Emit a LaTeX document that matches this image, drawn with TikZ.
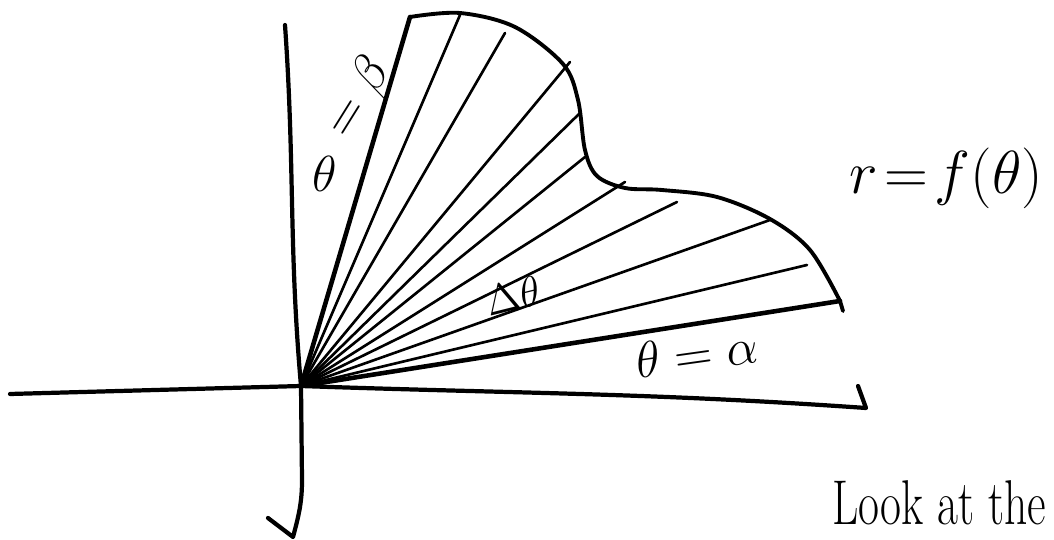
\documentclass[tikz,border=0pt]{standalone}
\usepackage{amsmath}
\usepackage{tikz}
\usetikzlibrary{calc}

\begin{document}
\begin{tikzpicture}[x=0.01cm, y=-0.01cm, line cap=round, line join=round,
   axis/.style={draw=black,line width=1.2pt},
   edge/.style={draw=black,line width=1.3pt},
   ray/.style={draw=black,line width=0.75pt},
   rim/.style={draw=black,line width=1.1pt},
   lbl/.style={inner sep=0pt,font=\fontsize{14}{14}\selectfont}]
  \useasboundingbox (0,0) rectangle (1054,540);
  % axes
  \coordinate (O) at (301,386);
  \draw[axis] (285,25) to[out=-86,in=95] (O) -- (302,480) to[out=-90,in=75] (293,537) -- (268,518);
  \draw[axis] (10,394) -- (O) to[out=-2,in=176] (866,408) -- (858,386);
  % boundary r = f(theta)
  \coordinate (B) at (410,17);
  \coordinate (A) at (840,301);
  \draw[rim] plot[smooth,tension=0.55] coordinates {(B) (460,13) (515,27) (563,64) (578,100) (585,150) (597,176) (625,188) (662,190) (717,197) (770,219) (810,250) (A)} -- (843,311);
  % rays
  \foreach \e in {(460,15),(505,33),(570,62),(580,113),(585,157),(625,182),(677,202),(770,220),(807,265)}
    \draw[ray] (O) -- \e;
  \draw[edge] (O) -- (B);
  \draw[edge] (O) -- (A);
  % labels
  \node[lbl] (thb) at (325,174) {$\theta$};
  \node[lbl,rotate=58] (eqb) at (359,98) {$=\beta$};
  \node[lbl,font=\fontsize{12}{12}\selectfont,rotate=14] (dth) at (513,296) {$\Delta\theta$};
  \node[lbl,font=\fontsize{15}{15}\selectfont,rotate=8] (tha) at (697,353) {$\theta=\alpha$};
  \node[lbl,font=\fontsize{19}{19}\selectfont] (rf) at (946,178) {$r\!=\!f(\theta)$};
  \node[lbl,font=\fontsize{18}{18}\selectfont,xscale=0.72,anchor=west] (look) at (832,503) {Look at the};
\end{tikzpicture}
\end{document}
